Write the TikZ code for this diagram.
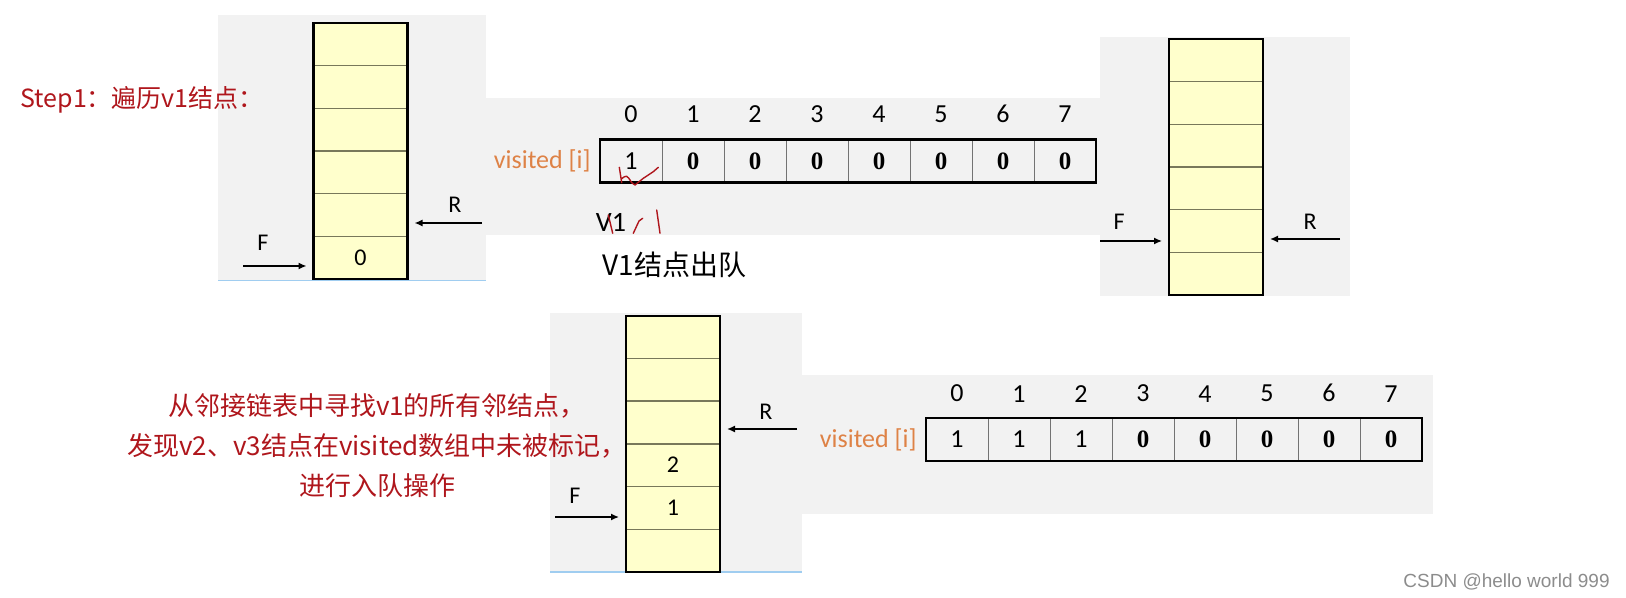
\documentclass[tikz,border=0pt]{standalone}
\usepackage{fontspec}
\setmainfont{Liberation Serif}
\setsansfont{Carlito}
\newfontfamily\cjk{Noto Sans CJK SC}
\newfontfamily\wmfont{Liberation Sans}
\usepackage{xcolor}
\usetikzlibrary{positioning,arrows.meta,calc}
\definecolor{panelgray}{RGB}{242,242,242}
\definecolor{queuefill}{RGB}{255,255,204}
\definecolor{sepline}{RGB}{120,120,90}
\definecolor{inkred}{RGB}{175,22,28}
\definecolor{idxorange}{RGB}{222,130,70}
\definecolor{edgeblue}{RGB}{160,205,240}
\definecolor{wmgray}{RGB}{140,140,140}
\tikzset{
  panel/.style={fill=panelgray},
  qcell/.style={draw=sepline, line width=0.7pt, fill=queuefill, minimum width=47pt,
                minimum height=21.35pt, inner sep=0pt, outer sep=0pt,
                font=\sffamily\fontsize{12}{12}\selectfont},
  qframe/.style={draw=black, line width=1.1pt},
  acell/.style={draw=black!55, line width=0.5pt, minimum width=31pt, minimum height=21.5pt,
                inner sep=0pt, outer sep=0pt, font=\bfseries\fontsize{12.5}{12.5}\selectfont},
  aframe/.style={draw=black, line width=1.1pt},
  idx/.style={font=\sffamily\fontsize{13}{13}\selectfont, inner sep=0pt},
  vlbl/.style={text=idxorange, font=\sffamily\fontsize{13}{13}\selectfont, inner sep=0pt},
  ptr/.style={-{Latex[length=4pt,width=3.5pt]}, line width=0.7pt, shorten >=3.5pt},
  ptrlbl/.style={font=\sffamily\fontsize{12}{12}\selectfont, inner sep=0pt},
  note/.style={text=inkred, font=\cjk\fontsize{13}{20}\selectfont, align=center},
  scribble/.style={draw=inkred, line width=0.7pt, line cap=round, line join=round}
}
\begin{document}
\begin{tikzpicture}[x=0.5pt, y=-0.5pt, node distance=0pt]
  \useasboundingbox (0,0) rectangle (1626,598);
  % backgrounds
  \fill[panel] (218,15) rectangle (486,280);
  \fill[panel] (486,98) rectangle (1100,235);
  \fill[panel] (1100,37) rectangle (1350,296);
  \fill[panel] (550,313) rectangle (802,572);
  \fill[panel] (802,375) rectangle (1433,514);
  \draw[edgeblue, line width=0.4pt] (218,280) -- (486,280);
  \draw[edgeblue, line width=0.6pt] (550,572) -- (802,572);

  \node[anchor=west, note, font=\cjk\fontsize{12.5}{13}\selectfont, inner sep=0pt] (step) at (20,100) {Step1：遍历v1结点：};

  % queue before v1 leaves
  \node[qcell] (qa1) at (360.5,257.7) {0};
  \foreach \i [remember=\i as \j (initially 1)] in {2,...,6}
    \node[qcell, above=of qa\j] (qa\i) {};
  \draw[qframe] (qa1.south west) rectangle (qa6.north east);
  \coordinate (fa) at (243,266);
  \coordinate (ra) at (482,223);
  \draw[ptr] (fa) -- (fa -| qa1.west);
  \draw[ptr] (ra) -- (ra -| qa1.east);
  \node[ptrlbl] (fla) at ($(fa)+(20,-23)$) {F};
  \node[ptrlbl] (rla) at ($(ra)+(-27,-18)$) {R};

  % visited after v1
  \node[acell, font=\sffamily\fontsize{13}{13}\selectfont] (va0) at (631,161) {1};
  \foreach \i [remember=\i as \j (initially 0)] in {1,...,7}
    \node[acell, right=of va\j] (va\i) {0};
  \draw[aframe] (va0.south west) rectangle (va7.north east);
  \foreach \i in {0,...,7}
    \node[idx, above=19pt of va\i.center] (ia\i) {\i};
  \node[vlbl, left=4.5pt of va0] (visa) {visited [i]};
  \node[idx, font=\sffamily\fontsize{14}{14}\selectfont] (v1) at (611,222) {V1};
  \draw[scribble] (619.3,167.3) -- (621.7,182.7)
    (621,179.3) .. controls (626.7,174.7) .. (631.7,182.7) -- (635,185) -- (643.3,178.3)
    -- (653.3,171.7) -- (658.3,167.3);
  \draw[scribble] (608.3,215) -- (612.7,233.3)
    (642.7,218.3) -- (639,221) -- (633.3,233.3)
    (656.7,210) -- (660,233.3);
  \node[anchor=west, font=\cjk\fontsize{14}{14}\selectfont, inner sep=0pt] (outq) at (602,265) {V1结点出队};

  % empty queue
  \node[qcell] (qc1) at (1216,273.7) {};
  \foreach \i [remember=\i as \j (initially 1)] in {2,...,6}
    \node[qcell, above=of qc\j] (qc\i) {};
  \draw[qframe] (qc1.south west) rectangle (qc6.north east);
  \coordinate (fc) at (1100,241);
  \coordinate (rc) at (1340,239);
  \draw[ptr] (fc) -- (fc -| qc1.west);
  \draw[ptr] (rc) -- (rc -| qc1.east);
  \node[ptrlbl] (flc) at ($(fc)+(19,-19)$) {F};
  \node[ptrlbl] (rlc) at ($(rc)+(-30,-17)$) {R};

  % queue after v2, v3 enter
  \node[qcell] (qb1) at (673,550.6) {};
  \foreach \i/\t [remember=\i as \j (initially 1)] in {2/1,3/2,4/{},5/{},6/{}}
    \node[qcell, above=of qb\j] (qb\i) {\t};
  \draw[qframe] (qb1.south west) rectangle (qb6.north east);
  \coordinate (fb) at (555,517);
  \coordinate (rb) at (797,429);
  \draw[ptr] (fb) -- (fb -| qb1.west);
  \draw[ptr] (rb) -- (rb -| qb1.east);
  \node[ptrlbl] (flb) at ($(fb)+(20,-21)$) {F};
  \node[ptrlbl] (rlb) at ($(rb)+(-31,-17)$) {R};

  % visited after v2, v3
  \node[acell, font=\sffamily\fontsize{13}{13}\selectfont] (vb0) at (957,439.5) {1};
  \foreach \i/\t [remember=\i as \j (initially 0)] in {1/1,2/1,3/0,4/0,5/0,6/0,7/0}
    \node[acell, right=of vb\j] (vb\i) {\ifnum\t=1 \sffamily\fontsize{13}{13}\selectfont\mdseries\fi\t};
  \draw[aframe] (vb0.south west) rectangle (vb7.north east);
  \foreach \i in {0,...,7}
    \node[idx, above=18.5pt of vb\i.center] (ib\i) {\i};
  \node[vlbl, left=4.5pt of vb0] (visb) {visited [i]};

  \node[note] (find) at (377,445.5) {从邻接链表中寻找v1的所有邻结点，\\发现v2、v3结点在visited数组中未被标记，\\进行入队操作};

  \node[anchor=east, text=wmgray, font=\wmfont\fontsize{9.5}{10}\selectfont, inner sep=0pt] (wm) at (1610,582) {CSDN @hello world 999};
\end{tikzpicture}
\end{document}
